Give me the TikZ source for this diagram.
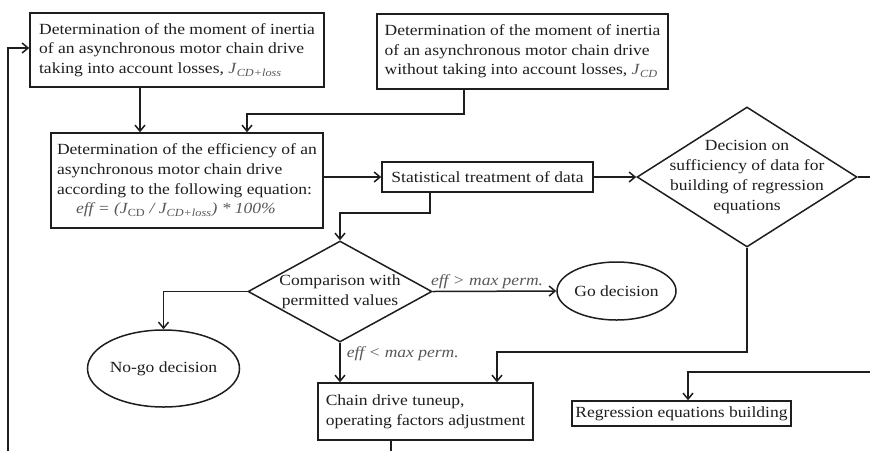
\documentclass[tikz,border=0pt]{standalone}
\usepackage{fontspec}
\setmainfont{Liberation Serif}[FakeStretch=1.13]
\usetikzlibrary{arrows.meta,shapes.geometric}
\definecolor{txt}{HTML}{1E1E1E}
\definecolor{ln}{HTML}{1E1E1E}
\definecolor{sub}{HTML}{585858}
\newcommand{\Jsub}[1]{{\color{sub}\textit{J}\textsubscript{\textit{#1}}}}
\begin{document}
\begin{tikzpicture}[x=1pt,y=-1pt,
  every node/.style={text=txt,font=\fontsize{15.5}{19.7}\selectfont},
  box/.style={draw=ln,line width=1.5pt,rectangle,align=left,inner sep=0pt},
  dec/.style={draw=ln,line width=1.5pt,diamond,inner sep=0pt},
  term/.style={draw=ln,line width=1.5pt,ellipse,inner sep=0pt},
  conn/.style={draw=ln,line width=1.5pt},
  arr/.style={conn,-{Straight Barb[length=6pt,width=10pt]}},
  lab/.style={font=\fontsize{15.5}{19.7}\selectfont\itshape,text=sub,inner sep=1pt}]
\useasboundingbox (0,0) rectangle (870,451);
\fill[white] (0,0) rectangle (870,451);

\node[box,minimum width=294pt,minimum height=74pt] (A) at (177,50)
  {Determination of the moment of inertia\\of an asynchronous motor chain drive\\taking into account losses, \Jsub{CD+loss}};
\node[box,minimum width=291pt,minimum height=75pt] (B) at (522.5,51.5)
  {Determination of the moment of inertia\\of an asynchronous motor chain drive\\without taking into account losses, \Jsub{CD}};
\node[box,minimum width=272pt,minimum height=95pt] (C) at (187,180.5)
  {Determination of the efficiency of an\\asynchronous motor chain drive\\according to the following equation:\\\hspace*{19pt}{\color{sub}\itshape eff = (J\textsubscript{\upshape CD} / J\textsubscript{CD+loss}) * 100\%}};
\node[box,minimum width=211pt,minimum height=30pt] (D) at (487.5,177) {Statistical treatment of data};
\node[dec,minimum width=220pt,minimum height=140pt,
  label={[align=center]center:Decision on\\sufficiency of data for\\building of regression\\equations}] (E) at (747,177) {};
\node[dec,minimum width=184pt,minimum height=101pt,
  label={[align=center]center:Comparison with\\permitted values}] (H) at (340,291.5) {};
\node[term,minimum width=127pt,minimum height=77pt] (NG) at (163.5,368.5) {No-go decision};
\node[term,minimum width=117pt,minimum height=58pt] (GO) at (616.5,291) {Go decision};
\node[box,minimum width=215pt,minimum height=57pt] (F) at (425.5,411.5)
  {Chain drive tuneup,\\operating factors adjustment};
\node[box,minimum width=219pt,minimum height=25pt] (G) at (681.5,413.5) {Regression equations building};

\coordinate (eR) at (870,177);
\coordinate (gR) at (870,372);
\coordinate (fB) at (391,451);
\coordinate (fb) at (8,451);

\draw[arr] ([xshift=-37pt]A.south) -- ([xshift=-37pt]A.south |- C.north);
\draw[arr] ([xshift=-58.5pt]B.south) -- ++(0,24) -| ([xshift=60pt]C.north);
\draw[arr] (C.east |- D.west) -- (D.west);
\draw[arr] (D.east) -- (E.west);
\draw[conn] (E.east) -- (eR);
\draw[arr] (E.south) -- ++(0,104) -| ([xshift=71.5pt]F.north);
\draw[arr] (gR) -| ([xshift=6.5pt]G.north);
\draw[arr] ([xshift=-57.5pt]D.south) -- ++(0,20) -| (H.north);
\draw[arr] (H.west) -| (NG.north);
\draw[arr] (H.east) -- node[lab,above,pos=0.44,yshift=1pt] {eff > max perm.} (GO.west);
\draw[arr] (H.south) -- node[lab,right,pos=0.27,xshift=5pt] {eff < max perm.} (H.south |- F.north);
\draw[conn] ([xshift=-34.5pt]F.south) -- (fB);
\draw[arr] (fb) |- ([yshift=2pt]A.west);
\end{tikzpicture}
\end{document}
